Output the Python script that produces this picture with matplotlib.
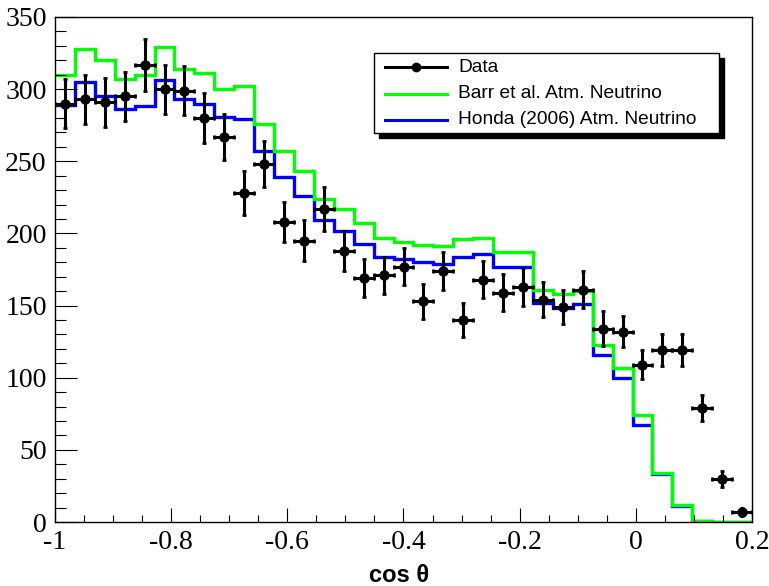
import numpy as np
import matplotlib
matplotlib.use('Agg')
import matplotlib.pyplot as plt
from matplotlib.patches import Rectangle
from matplotlib.lines import Line2D
from matplotlib.ticker import MultipleLocator

plt.rcParams['axes.unicode_minus'] = False

# cos(theta) binning: 35 bins from -1 to 0.2
x_lo, x_hi, n_bins = -1.0, 0.2, 35

# measured counts per bin
data = [290, 293, 291, 295, 317, 300, 299, 280, 267, 228,
        248, 208, 195, 217, 188, 169, 171, 177, 153, 174,
        140, 168, 159, 163, 154, 149, 161, 134, 132, 109,
        119, 119, 79, 30, 7]
data_err = [17, 17, 17, 17, 18, 17, 17, 17, 16, 15,
            16, 14, 14, 15, 14, 13, 13, 13, 12, 13,
            12, 13, 13, 13, 12, 12, 13, 12, 11, 10,
            11, 11, 9, 5.5, 2.6]

# Barr et al. prediction
barr = [310, 328, 320, 307, 310, 329, 314, 311, 300, 302,
        276, 257, 243, 224, 217, 207, 197, 194, 192, 191,
        196, 197, 187, 187, 161, 158, 160, 123, 107, 74,
        34, 12, 1, 0, 0]

# Honda (2006) prediction
honda = [289, 305, 295, 286, 288, 306, 293, 290, 281, 279,
         257, 239, 226, 209, 202, 193, 184, 182, 180, 179,
         184, 186, 177, 177, 152, 148, 151, 116, 100, 67,
         33, 11, 1, 0, 0]

edges = np.linspace(x_lo, x_hi, n_bins + 1)
centers = 0.5 * (edges[:-1] + edges[1:])
half_w = 0.5 * (edges[1] - edges[0])

fig = plt.figure(figsize=(7.69, 5.86), dpi=100)
ax = fig.add_axes([55/769, 64/586, 697/769, 505/586])

ax.stairs(honda, edges, color='#0000ff', lw=2.4, baseline=None)
ax.stairs(barr, edges, color='#00ff00', lw=2.4, baseline=None)
ax.errorbar(centers, data, xerr=half_w, yerr=data_err, fmt='o', color='black',
            ms=6.5, elinewidth=2.2, capsize=1.6, capthick=2, zorder=5)

ax.set_xlim(x_lo, x_hi)
ax.set_ylim(0, 350)

ax.xaxis.set_major_locator(MultipleLocator(0.2))
ax.xaxis.set_minor_locator(MultipleLocator(0.05))
ax.yaxis.set_major_locator(MultipleLocator(50))
ax.yaxis.set_minor_locator(MultipleLocator(10))
ax.set_xticks(np.arange(-1, 0.21, 0.2))
ax.set_xticklabels(['-1', '-0.8', '-0.6', '-0.4', '-0.2', '0', '0.2'])

ax.tick_params(axis='both', which='both', direction='in', top=False, right=False,
               width=0.8, labelsize=20, labelfontfamily='Liberation Serif')
ax.tick_params(axis='x', which='major', length=10, pad=6)
ax.tick_params(axis='x', which='minor', length=5)
ax.tick_params(axis='y', which='major', length=16, pad=6)
ax.tick_params(axis='y', which='minor', length=8)
for s in ax.spines.values():
    s.set_linewidth(1.0)

fig.text(399/769, 1 - 575/586, 'cos θ', ha='center', va='center',
         fontsize=17, fontweight='bold', family='Liberation Sans')

# legend box with a solid black shadow, ROOT style
box_l, box_t, box_r, box_b = 374, 53, 719, 133
shadow = 5
fig.patches.append(Rectangle(((box_l + shadow)/769, 1 - (box_b + shadow)/586),
                             (box_r - box_l)/769, (box_b - box_t)/586,
                             transform=fig.transFigure, facecolor='black',
                             edgecolor='black', zorder=10))
fig.patches.append(Rectangle((box_l/769, 1 - box_b/586),
                             (box_r - box_l)/769, (box_b - box_t)/586,
                             transform=fig.transFigure, facecolor='white',
                             edgecolor='black', lw=1, zorder=11))

labels = ['Data', 'Barr et al. Atm. Neutrino', 'Honda (2006) Atm. Neutrino']
colors = ['black', '#00ff00', '#0000ff']
rows = [67, 94, 120]
for lab, col, ry in zip(labels, colors, rows):
    yy = 1 - ry/586
    fig.lines.append(Line2D([385/769, 447/769], [yy, yy], transform=fig.transFigure,
                            color=col, lw=2.2, zorder=12))
    if lab == 'Data':
        fig.lines.append(Line2D([416/769], [yy], transform=fig.transFigure,
                                marker='o', ms=6, color='black', zorder=13))
    fig.text(458/769, yy, lab, ha='left', va='center', fontsize=13.8,
             family='Liberation Sans', zorder=13)

fig.savefig('out.png', dpi=100)
